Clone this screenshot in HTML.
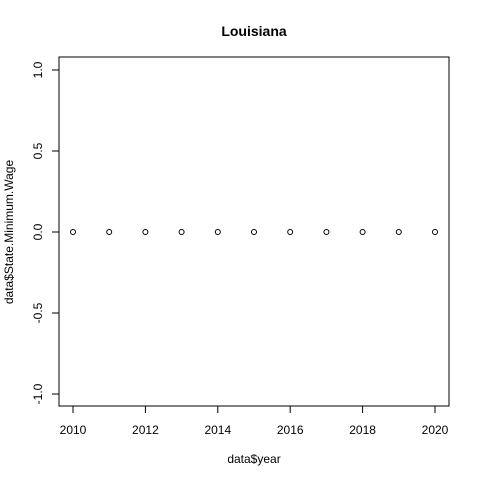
<!DOCTYPE html>
<html><head><meta charset="utf-8"><style>body{margin:0;background:#fff}svg{display:block}text{font-family:"Liberation Sans",Arial,sans-serif;fill:#000}</style></head>
<body>
<svg id="c" width="480" height="480"></svg>
<script>
const years=[2010,2011,2012,2013,2014,2015,2016,2017,2018,2019,2020];
const wages=[0,0,0,0,0,0,0,0,0,0,0];
const xTicks=[2010,2012,2014,2016,2018,2020];
const yTicks=[-1.0,-0.5,0.0,0.5,1.0];
const NS="http://www.w3.org/2000/svg";
const svg=document.getElementById('c');
const L=59,R=449,T=57,B=406;
const x=v=>73+(v-2010)*(435-73)/10;
const y=v=>232-v*162;
function el(t,a,p){const e=document.createElementNS(NS,t);for(const k in a)e.setAttribute(k,a[k]);(p||svg).appendChild(e);return e;}
const box=el('rect',{x:L,y:T,width:R-L,height:B-T,fill:'none',stroke:'#000','stroke-width':1});


const t=el('text',{x:254,y:36,'text-anchor':'middle','font-size':14,'font-weight':'bold'});t.textContent='Louisiana';


el('line',{x1:x(xTicks[0]),x2:x(xTicks[xTicks.length-1]),y1:B,y2:B+7,stroke:'#000'}).setAttribute('y2',B);
xTicks.forEach(v=>{
 const l=el('line',{x1:x(v),x2:x(v),y1:B,y2:B+7,stroke:'#000'});
 
 
 const s=el('text',{x:x(v),y:434,'text-anchor':'middle','font-size':12});s.textContent=v;
 
 
});
yTicks.forEach(v=>{
 const l=el('line',{x1:L-7,x2:L,y1:y(v),y2:y(v),stroke:'#000'});
 
 
 const s=el('text',{x:0,y:0,'text-anchor':'middle','font-size':12,transform:`translate(42,${y(v)}) rotate(-90)`});s.textContent=v.toFixed(1);
 
 
});
const xl=el('text',{x:254,y:463,'text-anchor':'middle','font-size':12});xl.textContent='data$year';


const yl=el('text',{x:0,y:0,'text-anchor':'middle','font-size':12,transform:'translate(13,232) rotate(-90)'});yl.textContent='data$State.Minimum.Wage';


years.forEach((yr,i)=>{
 const c=el('circle',{cx:x(yr),cy:y(wages[i]),r:2.5,fill:'none',stroke:'#000','stroke-width':1});
 
 
});
</script>
</body></html>
